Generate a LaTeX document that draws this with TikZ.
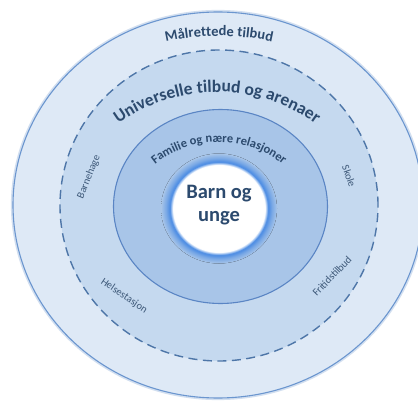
\documentclass[tikz,border=0pt]{standalone}
\usepackage{fontspec}
\setmainfont{Carlito}
\usetikzlibrary{decorations.text}
\definecolor{outerfill}{HTML}{DEE9F6}
\definecolor{midfill}{HTML}{C5D9EF}
\definecolor{famfill}{HTML}{A8C5E8}
\definecolor{ringline}{HTML}{6B96CF}
\definecolor{famline}{HTML}{5A85C4}
\definecolor{dashc}{HTML}{4E76A8}
\definecolor{glowc}{HTML}{4A8BE3}
\definecolor{txt}{HTML}{2C4A6E}
\definecolor{smalltxt}{HTML}{3D5878}
\pgfdeclareradialshading{glowshade}{\pgfpoint{0bp}{0bp}}{color(0bp)=(white); color(19.8bp)=(white); color(21.2bp)=(glowc); color(22.8bp)=(glowc!50!famfill); color(25bp)=(famfill); color(50bp)=(famfill)}
\tikzset{
  smalllabel/.style={font=\fontsize{10.5}{12}\selectfont, text=smalltxt, inner sep=0pt},
  centerlabel/.style={font=\bfseries\fontsize{20.5}{23}\selectfont, text=txt, align=center, inner sep=0pt},
}
\begin{document}
\begin{tikzpicture}[x=1pt,y=1pt]
\useasboundingbox (0,0) rectangle (418,400);
\fill[white] (0,0) rectangle (418,400);
\clip (0,0) rectangle (418,400);
% outer ring
\draw[ringline!60, line width=2.2pt, opacity=0.5] (218,195) ellipse[x radius=206, y radius=194];
\draw[ringline, line width=1.1pt, fill=outerfill] (218,195) ellipse[x radius=205, y radius=193];
% universal ring
\fill[midfill] (219,194.5) ellipse[x radius=159, y radius=155.5];
\draw[dashc, line width=1.4pt, dash pattern=on 9pt off 5.5pt] (219,194.5) ellipse[x radius=159, y radius=155.5];
% family ring
\draw[famline, line width=1.1pt, fill=famfill] (220.5,193.5) ellipse[x radius=107, y radius=97];
% centre with glow
\fill[shading=glowshade] (219,191.5) ellipse[x radius=58, y radius=55];
\node[centerlabel] (center) at (219,195) {Barn og\\unge};
% curved titles
\path[decorate, decoration={text along path, text align=center, text color=txt,
  text={|\bfseries\fontsize{14.5}{16}\selectfont|Målrettede tilbud}}]
  (219,118) ++(120:246) arc[start angle=120, end angle=60, radius=246];
\path[decorate, decoration={text along path, text align=center, text color=txt,
  text={|\bfseries\fontsize{17.5}{20}\selectfont|Universelle tilbud og arenaer}}]
  (217,140) ++(145:168) arc[start angle=145, end angle=35, radius=168];
\path[decorate, decoration={text along path, text align=center, text color=txt,
  text={|\bfseries\fontsize{12.5}{14}\selectfont|Familie og nære relasjoner}}]
  (219,156) ++(150:102) arc[start angle=150, end angle=30, radius=102];
% small labels
\node[smalllabel, rotate=68] (barnehage) at (89,223) {Barnehage};
\node[smalllabel, rotate=-71] (skole) at (349,224) {Skole};
\node[smalllabel, rotate=-34] (helse) at (124,104) {Helsestasjon};
\node[smalllabel, rotate=46] (fritid) at (332,124) {Fritidstilbud};
\end{tikzpicture}
\end{document}
